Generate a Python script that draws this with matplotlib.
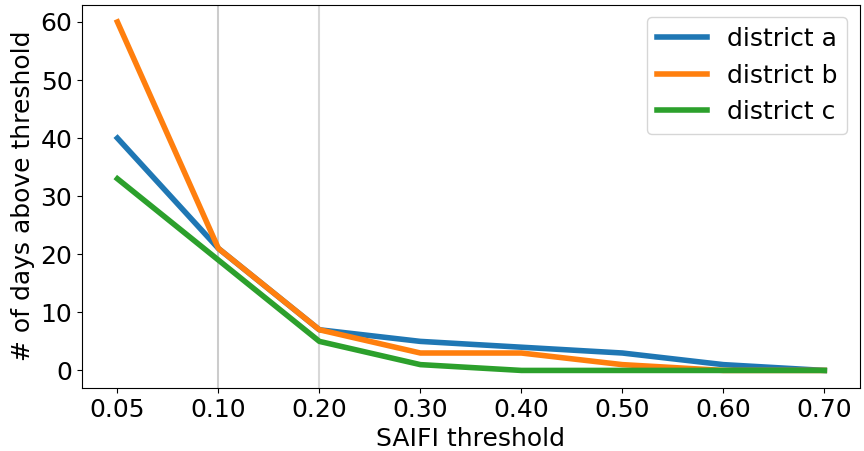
import matplotlib
matplotlib.use("Agg")
from matplotlib import pyplot as plt

thresholds = ["0.05", "0.10", "0.20", "0.30", "0.40", "0.50", "0.60", "0.70"]
district_a = [40, 21, 7, 5, 4, 3, 1, 0]
district_b = [60, 21, 7, 3, 3, 1, 0, 0]
district_c = [33, 19, 5, 1, 0, 0, 0, 0]

plt.rcParams['font.size'] = 18

fig, ax = plt.subplots(figsize=(8.64, 4.51), dpi=100)
x = list(range(len(thresholds)))

ax.axvline(1, color='grey', alpha=0.4, linewidth=1.5)
ax.axvline(2, color='grey', alpha=0.3, linewidth=1.5)

ax.plot(x, district_a, linewidth=4, label="district a")
ax.plot(x, district_b, linewidth=4, label="district b")
ax.plot(x, district_c, linewidth=4, label="district c")

ax.set_xticks(x)
ax.set_xticklabels(thresholds)
ax.set_xlabel("SAIFI threshold")
ax.set_ylabel("# of days above threshold")
ax.legend(loc="upper right")

fig.subplots_adjust(left=0.095, right=0.995, top=0.99, bottom=0.14)
fig.savefig("out.png")
